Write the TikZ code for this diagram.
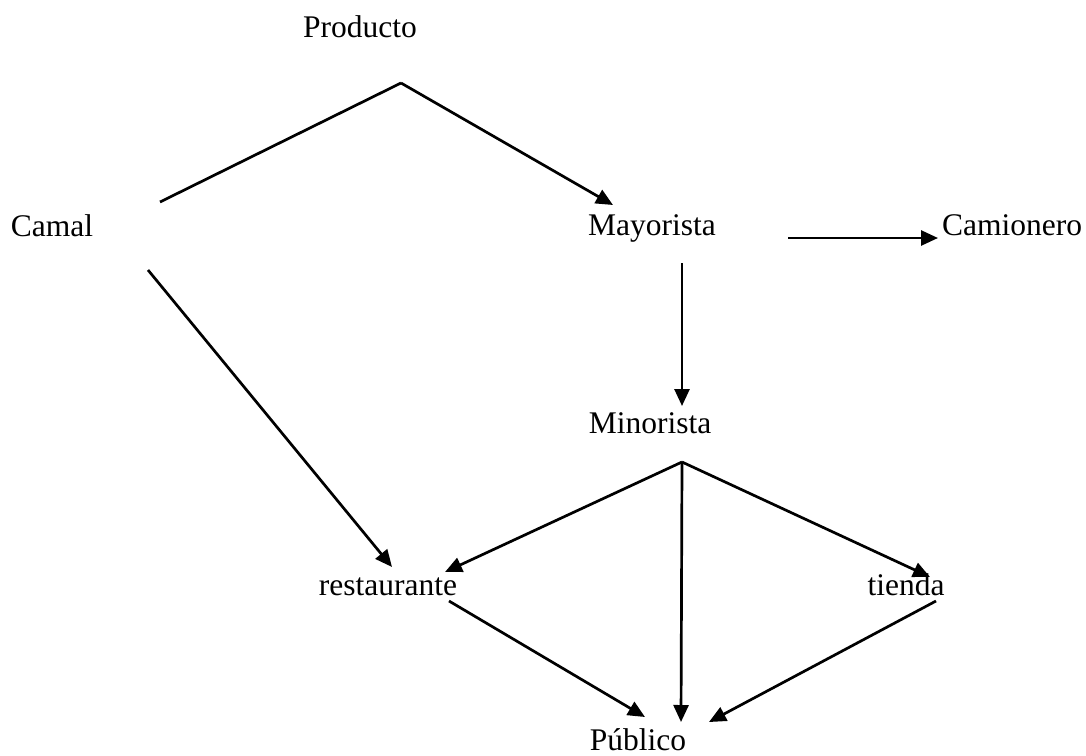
\documentclass[tikz,border=0pt]{standalone}
\usepackage{fontspec}
\setmainfont{Liberation Serif}
\usetikzlibrary{arrows.meta}
\tikzset{
	% text labels and the two kinds of connectors
	name node/.style={anchor=base, inner sep=0, font=\fontsize{31.5}{38}\selectfont},
	plain line/.style={line width=2.7pt},
	flow line/.style={line width=2.7pt, -{Triangle[length=17pt,width=15pt]}}
}
\begin{document}
\begin{tikzpicture}[x=1pt, y=-1pt]
  \useasboundingbox (0,0) rectangle (1086,755);

  \node(prod) at (360, 37) [name node]{Producto};
  \node(camal) at (52, 236) [name node]{Camal};
  \node(mayo) at (652, 235) [name node]{Mayorista};
  \node(camion) at (1012, 235) [name node]{Camionero};
  \node(mino) at (650, 433) [name node]{Minorista};
  \node(rest) at (388, 595) [name node]{restaurante};
  \node(tienda) at (906, 595) [name node]{tienda};
  \node(publico) at (638, 750) [name node]{Público};

  \coordinate(split) at (401, 83);
  \coordinate(hub) at ([shift={(32,29)}]mino.base);

  \draw[plain line] ([shift={(108,-34)}]camal.base) -- (split);
  \draw[flow line] (split) -- ([shift={(-39,-30)}]mayo.base);
  \draw[flow line] ([shift={(96,34)}]camal.base) -- ([shift={(4,-28)}]rest.base);

  \draw[flow line] ([shift={(136,3)}]mayo.base) -- ([shift={(-74,3)}]camion.base);
  \draw[flow line] ([shift={(30,28)}]mayo.base) -- ([shift={(32,-27)}]mino.base);

  \draw[flow line] (hub) -- ([shift={(57,-23)}]rest.base);
  \draw[flow line] (hub) -- ([shift={(43,-28)}]publico.base);
  \draw[flow line] (hub) -- ([shift={(24,-18)}]tienda.base);

  \draw[flow line] ([shift={(61,6)}]rest.base) -- ([shift={(7,-33)}]publico.base);
  \draw[flow line] ([shift={(30,6)}]tienda.base) -- ([shift={(71,-28)}]publico.base);

\end{tikzpicture}
\end{document}
